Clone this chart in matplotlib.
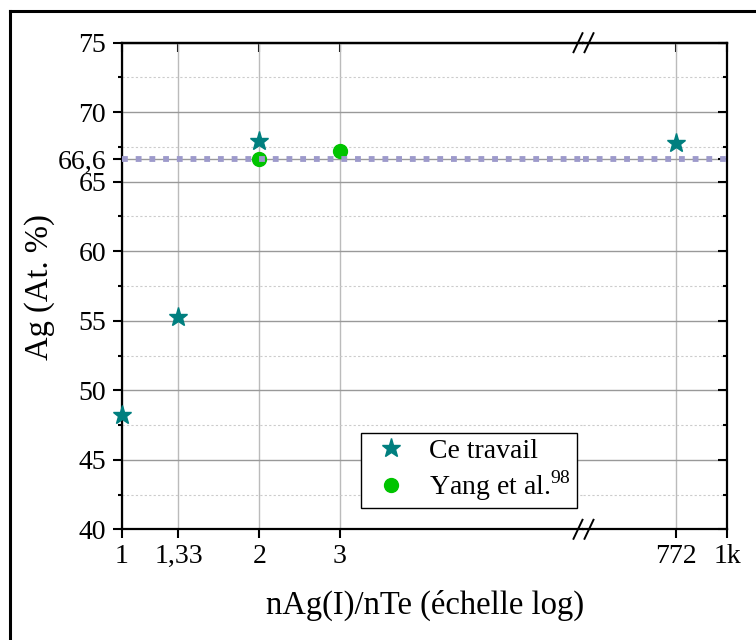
import matplotlib
matplotlib.use('Agg')
import matplotlib.pyplot as plt
from matplotlib.ticker import NullLocator, FixedLocator
from matplotlib.lines import Line2D

plt.rcParams['font.family'] = ['Liberation Serif', 'DejaVu Serif']
plt.rcParams['mathtext.fontset'] = 'custom'
plt.rcParams['mathtext.rm'] = 'Liberation Serif'

# data
travail_x = [1, 1.33, 2, 772]
travail_y = [48.25, 55.3, 67.95, 67.8]
yang_x = [2, 3]
yang_y = [66.6, 67.2]
ref_y = 66.6

xticks_left = [1, 1.33, 2, 3]
xlabels_left = ['1', '1,33', '2', '3']
xticks_right = [772, 1000]
xlabels_right = ['772', '1k']
yticks = [40, 45, 50, 55, 60, 65, 66.6, 70, 75]
ylabels = ['40', '45', '50', '55', '60', '65', '66,6', '70', '75']
yminor = [42.5, 47.5, 52.5, 57.5, 62.5, 67.5, 72.5]

W, H = 756, 640
fig = plt.figure(figsize=(W/100, H/100), dpi=100)

def fx(px):
    return px / W

def fy(py):
    return 1 - py / H

x0, xb, x1 = 122, 583, 727
ytop, ybot = 42.7, 529.3
ax1 = fig.add_axes([fx(x0), fy(ybot), fx(xb - x0), (ybot - ytop) / H])
ax2 = fig.add_axes([fx(xb), fy(ybot), fx(x1 - xb), (ybot - ytop) / H], sharey=ax1)

teal = '#007f7f'
green = '#00c400'
lav = '#9d9acb'

for ax in (ax1, ax2):
    ax.set_xscale('log')
    ax.set_ylim(40, 75)
    ax.xaxis.set_minor_locator(NullLocator())
    ax.yaxis.set_major_locator(FixedLocator(yticks))
    ax.yaxis.set_minor_locator(FixedLocator(yminor))
    ax.grid(True, which='major', axis='y', color='#999999', lw=1)
    ax.grid(True, which='minor', axis='y', color='#cccccc', lw=0.8, linestyle=(0, (2, 2)))
    ax.grid(True, which='major', axis='x', color='#bbbbbb', lw=1)
    ax.axhline(ref_y, color=lav, lw=4.2, linestyle=(0, (1.0, 1.35)), dash_capstyle='butt', zorder=3)
    for s in ax.spines.values():
        s.set_linewidth(1.6)
    ax.tick_params(which='major', length=6.5, width=1.5, labelsize=20, pad=4)
    ax.tick_params(which='minor', length=3.2, width=1.5)
    ax.set_axisbelow(True)

ax1.set_xlim(1, 10 ** ((xb - x0) / 456))
ax2.set_xlim(10 ** (3 - (x1 - xb) / 456), 1000)

ax1.spines['right'].set_visible(False)
ax2.spines['left'].set_visible(False)

ax1.set_xticks(xticks_left)
ax1.set_xticklabels(xlabels_left)
ax2.set_xticks(xticks_right)
ax2.set_xticklabels(xlabels_right)
ax1.set_yticklabels(ylabels)
ax1.tick_params(axis='y', which='both', direction='out', left=True, right=False, pad=5)
ax1.tick_params(axis='x', direction='out')
ax2.tick_params(axis='y', which='both', direction='in', left=False, right=True, labelleft=False)
ax2.tick_params(axis='x', direction='out')

# inward ticks on top
for ax, tk in ((ax1, xticks_left), (ax2, xticks_right)):
    sec = ax.secondary_xaxis('top')
    sec.set_xticks(tk)
    sec.set_xticklabels([''] * len(tk))
    sec.xaxis.set_minor_locator(NullLocator())
    sec.tick_params(direction='in', length=6.5, width=1.5)
    sec.spines['top'].set_linewidth(1.6)

# points
tl = [x < 100 for x in travail_x]
ax1.plot([x for x, k in zip(travail_x, tl) if k], [y for y, k in zip(travail_y, tl) if k],
         linestyle='none', marker='*', ms=14, color=teal, mec=teal, zorder=5, clip_on=False)
ax2.plot([x for x, k in zip(travail_x, tl) if not k], [y for y, k in zip(travail_y, tl) if not k],
         linestyle='none', marker='*', ms=14, color=teal, mec=teal, zorder=5, clip_on=False)
ax1.plot(yang_x, yang_y, linestyle='none', marker='o', ms=10, color=green, mec=green, zorder=2.5)

h1 = Line2D([], [], linestyle='none', marker='*', ms=14, color=teal)
h2 = Line2D([], [], linestyle='none', marker='o', ms=10, color=green)
leg = fig.legend([h1, h2], ['Ce travail', 'Yang et al.$^{98}$'], loc='upper left',
                 bbox_to_anchor=(fx(361), fy(433)), bbox_transform=fig.transFigure,
                 borderaxespad=0, fontsize=20, fancybox=False, framealpha=1,
                 edgecolor='black', handlelength=1.75, handletextpad=0.5,
                 borderpad=0.2, labelspacing=0.15)
leg.get_frame().set_linewidth(1.0)

# axis break marks
for yy in (ytop, ybot):
    for cx in (578, 589):
        fig.add_artist(Line2D([fx(cx - 4.5), fx(cx + 4.5)], [fy(yy + 9.5), fy(yy - 9.5)],
                              transform=fig.transFigure, color='black', lw=1.4))

# labels
fig.text(fx(425), fy(605), 'nAg(I)/nTe (échelle log)', ha='center', va='center', fontsize=23.5)
fig.text(fx(40), fy(287), 'Ag (At. %)', ha='center', va='center', rotation=90, fontsize=23.5)

# outer frame
fig.add_artist(Line2D([fx(9.5), fx(9.5)], [0, fy(11)], transform=fig.transFigure, color='black', lw=2.2))
fig.add_artist(Line2D([fx(9.5), 1], [fy(11), fy(11)], transform=fig.transFigure, color='black', lw=2.2))

fig.savefig('out.png', dpi=100)
